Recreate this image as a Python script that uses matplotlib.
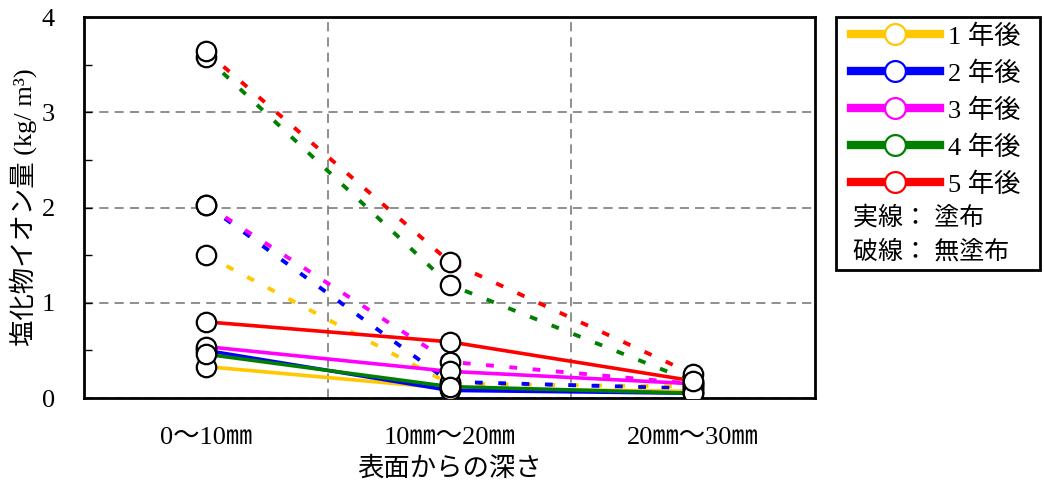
import matplotlib
matplotlib.use("Agg")
import matplotlib.pyplot as plt
from matplotlib.lines import Line2D
from matplotlib.patches import Rectangle

plt.rcParams['font.family'] = ['Liberation Serif', 'Noto Sans CJK JP', 'DejaVu Sans']

depths = ['0〜10㎜', '10㎜〜20㎜', '20㎜〜30㎜']
xpos = [0.5, 1.5, 2.5]
labels = ['1 年後', '2 年後', '3 年後', '4 年後', '5 年後']
colors = ['#ffc800', '#0000ff', '#ff00ff', '#008000', '#ff0000']

# 実線: 塗布 (coated)
coated = [
    [0.33, 0.10, 0.07],
    [0.50, 0.08, 0.05],
    [0.54, 0.28, 0.15],
    [0.46, 0.12, 0.05],
    [0.80, 0.59, 0.18],
]
# 破線: 無塗布 (uncoated)
uncoated = [
    [1.50, 0.15, 0.12],
    [2.03, 0.17, 0.10],
    [2.03, 0.38, 0.15],
    [3.58, 1.19, 0.17],
    [3.64, 1.43, 0.25],
]

fig = plt.figure(figsize=(10.44, 4.88), dpi=100)
ax = fig.add_axes([0.0805, 0.1844, 0.7002, 0.7807])

for c, ys in zip(colors, uncoated):
    ax.plot(xpos, ys, color=c, lw=2.8, dashes=(2.0, 4.0), zorder=3)
for c, ys in zip(colors, coated):
    ax.plot(xpos, ys, color=c, lw=2.6, zorder=4)
for ys in uncoated + coated:
    ax.plot(xpos, ys, ls='none', marker='o', ms=14, mfc='white', mec='black', mew=1.6, zorder=5)

ax.set_xlim(0, 3)
ax.set_ylim(0, 4)
ax.set_xticks(xpos)
ax.set_xticklabels(depths, fontsize=19)
ax.set_xticks([1, 2], minor=True)
ax.tick_params(axis='x', which='both', length=0, pad=21)
ax.set_yticks([0, 1, 2, 3, 4])
ax.set_yticks([0.5, 1.5, 2.5, 3.5], minor=True)
ax.tick_params(axis='y', which='both', direction='in', length=6, width=1, pad=21, labelsize=19)
ax.grid(True, axis='y', which='major', color='#707070', ls=(0, (6, 4)), lw=1.1)
ax.grid(True, axis='x', which='minor', color='#707070', ls=(0, (6, 4)), lw=1.1)
for s in ax.spines.values():
    s.set_linewidth(2)
ax.set_xlabel('表面からの深さ', fontsize=19, labelpad=5)
ax.set_ylabel('塩化物イオン量 (kg/ m³)', fontsize=19, labelpad=3)

handles = [Line2D([], [], color=c, lw=6, marker='o', ms=15, mfc='white', mec=c, mew=1.6)
           for c in colors]
fig.legend(handles, labels, loc='upper left', bbox_to_anchor=(0.797, 0.988),
           frameon=False, fontsize=19, handlelength=3.4, handletextpad=0.3,
           labelspacing=0.48, borderpad=0.2)
fig.patches.append(Rectangle((836 / 1044, 1 - 270 / 488), 204 / 1044, 253 / 488,
                             transform=fig.transFigure, fill=False, ec='black', lw=2))
fig.text(853 / 1044, 1 - 218 / 488, '実線： 塗布', fontsize=18, va='center')
fig.text(853 / 1044, 1 - 252 / 488, '破線： 無塗布', fontsize=18, va='center')

fig.savefig('out.png', dpi=100)
